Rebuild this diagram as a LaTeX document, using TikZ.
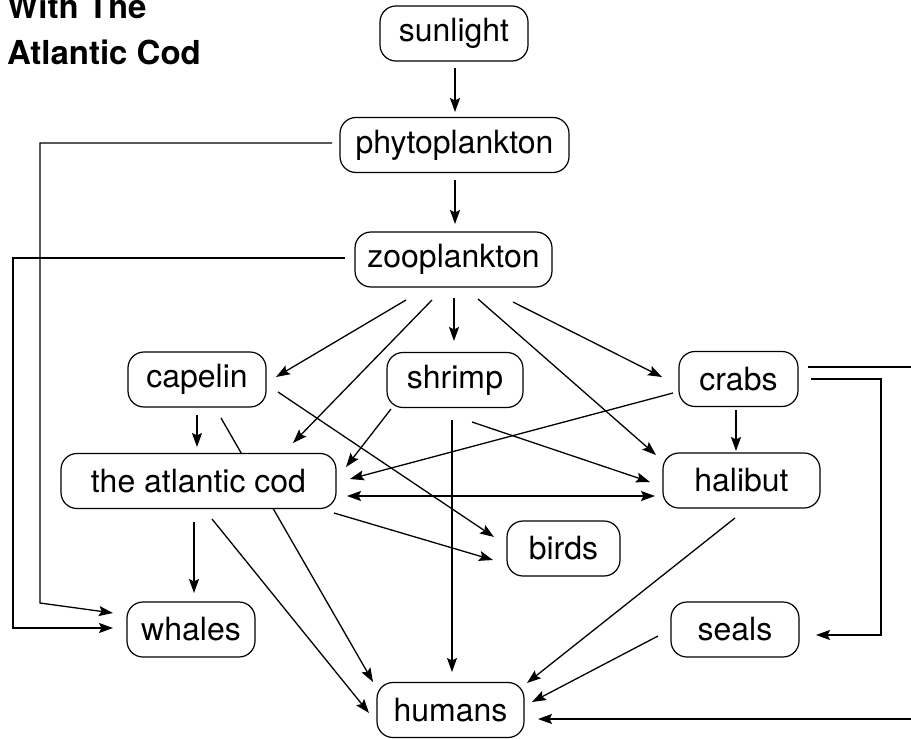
\documentclass[tikz,border=0pt]{standalone}
\usepackage{fontspec}
\setmainfont{TeX Gyre Heros}
\usetikzlibrary{calc,arrows.meta}
\pgfdeclarelayer{bg}
\pgfsetlayers{bg,main}
\begin{document}
\begin{tikzpicture}[x=1pt,y=-1pt,
  fw/.style={draw, line width=1.2pt, rounded corners=16pt, fill=white,
    minimum height=55pt, inner sep=0pt, font=\fontsize{32}{37}\selectfont},
  ttl/.style={anchor=base west, inner sep=0pt, font=\bfseries\fontsize{33}{39}\selectfont},
  ln/.style={line width=1.3pt, -{Stealth[length=14pt,width=10pt,inset=2.5pt]}},
  dl/.style={line width=1.3pt, {Stealth[length=14pt,width=10pt,inset=2.5pt]}-{Stealth[length=14pt,width=10pt,inset=2.5pt]}}]
\useasboundingbox (0,0) rectangle (911,739);
\clip (0,0) rectangle (911,739);

\node[ttl] (title1) at (7,18.5) {With The};
\node[ttl] (title2) at (7,64) {Atlantic Cod};

\node[fw, minimum width=148pt] (sun) at (454,33.5) {sunlight};
\node[fw, minimum width=229pt] (phy) at (454.5,145) {phytoplankton};
\node[fw, minimum width=197pt] (zoo) at (453.5,259.5) {zooplankton};
\node[fw, minimum width=138pt] (cap) at (197,379.5) {capelin};
\node[fw, minimum width=136pt] (shr) at (455,380) {shrimp};
\node[fw, minimum width=119pt] (crb) at (738.5,379) {crabs};
\node[fw, minimum width=275pt] (cod) at (198.5,481) {the atlantic cod};
\node[fw, minimum width=157pt] (hal) at (741.5,480.5) {halibut};
\node[fw, minimum width=113pt] (brd) at (563.5,548.5) {birds};
\node[fw, minimum width=128pt] (wha) at (191,629.5) {whales};
\node[fw, minimum width=128pt] (sea) at (735,629.5) {seals};
\node[fw, minimum width=147pt] (hum) at (450.5,710) {humans};

\begin{pgfonlayer}{bg}
\clip (0,0) rectangle (911,739);
\draw[ln] ($(sun)+(1,34.5)$) -- ($(phy)+(0.5,-33)$);
\draw[ln] ($(phy)+(0.5,35)$) -- ($(zoo)+(1.5,-35.5)$);
\draw[ln] ($(phy)+(-122.5,-2)$) -- ++(-292,0) -- ++(0,460) -- ($(wha)+(-78,-16.5)$);
\draw[ln] ($(zoo)+(-108.5,-1.5)$) -- ++(-332,0) |- ($(wha)+(-78,-1.5)$);
\draw[ln] ($(zoo)+(-47.5,40.5)$) -- ($(cap)+(79,-2.5)$);
\draw[ln] ($(zoo)+(-21.5,40.5)$) -- ($(cod)+(94.5,-38)$);
\draw[ln] ($(zoo)+(0.5,38.5)$) -- ($(shr)+(-1,-39)$);
\draw[ln] ($(zoo)+(24.5,39.5)$) -- ($(hal)+(-85.5,-25.5)$);
\draw[ln] ($(zoo)+(59.5,42.5)$) -- ($(crb)+(-76.5,-2)$);
\draw[ln] ($(crb)+(-65.5,14)$) -- ($(cod)+(151.5,-2)$);
\draw[ln] ($(crb)+(-2.5,31)$) -- ($(hal)+(-5.5,-29.5)$);
\draw[ln] ($(shr)+(-64,29)$) -- ($(cod)+(147.5,-14)$);
\draw[ln] ($(shr)+(17,42)$) -- ($(hal)+(-91.5,1.5)$);
\draw[ln] ($(shr)+(-3,40)$) -- ($(hum)+(1.5,-38)$);
\draw[ln] ($(cap)+(0,35.5)$) -- ($(cod)+(-1.5,-34)$);
\draw[ln] ($(cap)+(24,38.5)$) -- ($(hum)+(-77.5,-28)$);
\draw[ln] ($(cap)+(81,12.5)$) -- ($(brd)+(-69.5,-11.5)$);
\draw[dl] ($(cod)+(148.5,15)$) -- ($(hal)+(-86.5,15.5)$);
\draw[ln] ($(cod)+(135.5,32)$) -- ($(brd)+(-70.5,11.5)$);
\draw[ln] ($(cod)+(-4.5,41)$) -- ($(wha)+(3,-36.5)$);
\draw[ln] ($(cod)+(13.5,38)$) -- ($(hum)+(-81.5,3)$);
\draw[ln] ($(hal)+(-6.5,37.5)$) -- ($(hum)+(76.5,-27)$);
\draw[ln] ($(sea)+(-77,6.5)$) -- ($(hum)+(81.5,-8)$);
\draw[ln] ($(crb)+(72.5,0)$) -- ++(70,0) |- ($(sea)+(81,5.5)$);
\draw[ln] ($(crb)+(69.5,-12)$) -- ++(112,0) |- ($(hum)+(87.5,9)$);
\end{pgfonlayer}
\end{tikzpicture}
\end{document}
